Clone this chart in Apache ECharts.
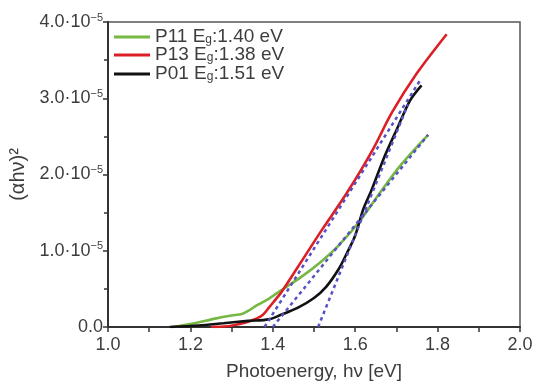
<!DOCTYPE html>
<html>
<head>
<meta charset="utf-8">
<script src="https://cdn.jsdelivr.net/npm/echarts@6/dist/echarts.min.js"></script>
<style>
  html, body { margin: 0; padding: 0; background: #fff; }
  #chart { width: 537px; height: 383px; }
</style>
</head>
<body>
<div id="chart"></div>
<script>
// (αhν)² values are given in units of 10^-5
const seriesNames = ['P11', 'P13', 'P01'];
const bandGaps = ['1.40', '1.38', '1.51'];

const p11 = [
  [1.155, 0.0], [1.21, 0.05], [1.26, 0.11], [1.30, 0.15], [1.325, 0.17],
  [1.34, 0.21], [1.36, 0.28], [1.39, 0.37], [1.42, 0.48], [1.47, 0.66],
  [1.52, 0.87], [1.56, 1.07], [1.61, 1.38], [1.66, 1.76], [1.71, 2.12],
  [1.777, 2.52]
];
const p13 = [
  [1.25, 0.0], [1.29, 0.01], [1.32, 0.04], [1.34, 0.07], [1.36, 0.11],
  [1.376, 0.16], [1.39, 0.25], [1.405, 0.35], [1.42, 0.45], [1.46, 0.78],
  [1.52, 1.28], [1.58, 1.76], [1.64, 2.30], [1.69, 2.82], [1.75, 3.33],
  [1.822, 3.84]
];
const p01 = [
  [1.15, 0.0], [1.22, 0.02], [1.28, 0.05], [1.34, 0.08], [1.39, 0.10],
  [1.42, 0.16], [1.46, 0.25], [1.50, 0.38], [1.53, 0.53], [1.56, 0.76],
  [1.58, 0.97], [1.60, 1.20], [1.62, 1.55], [1.64, 1.80], [1.67, 2.22],
  [1.70, 2.58], [1.733, 2.97], [1.761, 3.17]
];

// linear fits extrapolated to the energy axis (intercept = Eg)
const fitP11 = [[1.40, 0.0], [1.777, 2.52]];
const fitP13 = [[1.38, 0.0], [1.757, 3.23]];
const fitP01 = [[1.51, 0.0], [1.728, 2.92]];

const xTicks = { min: 1.0, max: 2.0, step: 0.2 };
const yTicks = { min: 0, max: 4, step: 1 };

const colors = ['#76b843', '#dc1f26', '#111111'];
const fitColor = '#5652c2';
const textColor = '#3d3d3d';
const font = 'Liberation Sans, Arial, sans-serif';

const chart = echarts.init(document.getElementById('chart'), null, { renderer: 'canvas' });

function legendFor(i, top) {
  return {
    data: [seriesNames[i]],
    left: 114,
    top: top,
    icon: 'rect',
    itemWidth: 36,
    itemHeight: 3,
    itemGap: 0,
    padding: 0,
    selectedMode: false,
    formatter: n => '{t|' + n + ' E}{s|g}{t|:' + bandGaps[i] + ' eV}',
    textStyle: {
      rich: {
        t: { fontFamily: font, fontSize: 19, color: textColor, lineHeight: 18 },
        s: { fontFamily: font, fontSize: 12, color: textColor, lineHeight: 18, verticalAlign: 'bottom', padding: [12, 0, 0, 0] }
      }
    }
  };
}

function fitSeries(data) {
  return {
    type: 'line', data: data, symbol: 'none', silent: true, z: 5,
    lineStyle: { color: fitColor, width: 2.5, type: [3.5, 3.5], cap: 'butt' }
  };
}

function curveSeries(i, data) {
  return {
    name: seriesNames[i], type: 'line', data: data, symbol: 'none', smooth: 0.3,
    lineStyle: { color: colors[i], width: 2.6 }, itemStyle: { color: colors[i] }, z: 3
  };
}

chart.setOption({
  animation: false,
  backgroundColor: '#ffffff',
  grid: {
    left: 108, right: 17, top: 22, bottom: 56,
    containLabel: false, outerBoundsMode: 'none',
    show: true, borderColor: '#555', borderWidth: 1.5, backgroundColor: 'transparent'
  },
  legend: [legendFor(0, 22), legendFor(1, 40), legendFor(2, 59)],
  xAxis: {
    type: 'value', min: xTicks.min, max: xTicks.max, interval: xTicks.step,
    name: 'Photoenergy, hν [eV]', nameLocation: 'middle', nameGap: 35,
    nameTextStyle: { fontFamily: font, fontSize: 19, color: textColor },
    axisLine: { show: true, lineStyle: { color: '#333', width: 2 } },
    axisTick: { show: true, inside: false, length: 5, lineStyle: { color: '#333', width: 1.5 } },
    minorTick: { show: true, splitNumber: 2, length: 5, lineStyle: { color: '#333', width: 1.5 } },
    splitLine: { show: false },
    axisLabel: { fontFamily: font, fontSize: 18, color: textColor, margin: 9, formatter: v => v.toFixed(1) }
  },
  yAxis: {
    type: 'value', min: yTicks.min, max: yTicks.max, interval: yTicks.step,
    name: '(αhν)²', nameLocation: 'middle', nameGap: 76, nameRotate: 90,
    nameTextStyle: { fontFamily: font, fontSize: 20, color: textColor },
    axisLine: { show: true, lineStyle: { color: '#333', width: 2 } },
    axisTick: { show: true, inside: false, length: 5, lineStyle: { color: '#333', width: 1.5 } },
    minorTick: { show: true, splitNumber: 2, length: 4, lineStyle: { color: '#333', width: 1.5 } },
    splitLine: { show: false },
    axisLabel: {
      margin: 5,
      formatter: v => v === 0 ? '{n|0.0}' : '{n|' + v.toFixed(1) + '·10}{e|−5}',
      rich: {
        n: { fontFamily: font, fontSize: 18, color: textColor, lineHeight: 20 },
        e: { fontFamily: font, fontSize: 11, color: textColor, lineHeight: 20, verticalAlign: 'top', padding: [0, 0, 10, 0] }
      }
    }
  },
  series: [
    curveSeries(0, p11),
    curveSeries(1, p13),
    curveSeries(2, p01),
    fitSeries(fitP13),
    fitSeries(fitP11),
    fitSeries(fitP01)
  ]
});
</script>
</body>
</html>
